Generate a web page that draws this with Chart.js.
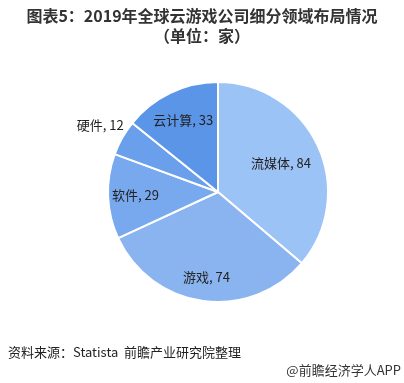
<!DOCTYPE html>
<html><head><meta charset="utf-8">
<script src="https://cdn.jsdelivr.net/npm/chart.js@4/dist/chart.umd.min.js"></script>
<style>
html,body{margin:0;padding:0;background:#fff;}
#wrap{position:relative;width:404px;height:383px;overflow:hidden;font-family:"Noto Sans CJK SC","Noto Sans",sans-serif;}
#c{position:absolute;left:0;top:0;}
.t{position:absolute;left:0;width:404px;text-align:center;font-weight:bold;font-size:16px;color:#333;line-height:20px;}
#src{position:absolute;left:8px;top:343px;font-size:13px;color:#222;line-height:18px;}
#app{position:absolute;right:3px;top:361px;font-size:13px;color:#333;line-height:18px;}
</style></head>
<body><div id="wrap">
<canvas id="c" width="404" height="383"></canvas>
<div class="t" style="top:5px">图表5：2019年全球云游戏公司细分领域布局情况</div>
<div class="t" style="top:25px">（单位：家）</div>
<div id="src">资料来源：Statista&nbsp;&nbsp;前瞻产业研究院整理</div>
<div id="app">@前瞻经济学人APP</div>
</div>
<script>
const categories = ["流媒体","游戏","软件","硬件","云计算"];
const values = [84,74,29,12,33];
const colors = ["#9CC3F5","#8AB4F0","#78A8EE","#6A9FEC","#5B95E8"];
const labelRadius = [0.63,0.78,0.75,1.23,0.73];

const labelPlugin = {
  id:'lbl',
  afterDatasetsDraw(chart){
    const ctx = chart.ctx;
    const meta = chart.getDatasetMeta(0);
    ctx.save();
    ctx.font = '13px "Noto Sans CJK SC","Noto Sans",sans-serif';
    ctx.fillStyle = '#222';
    ctx.textAlign = 'center';
    ctx.textBaseline = 'middle';
    meta.data.forEach((arc,i)=>{
      const p = arc.getProps(['x','y','startAngle','endAngle','outerRadius'],true);
      const a = (p.startAngle+p.endAngle)/2;
      const r = p.outerRadius*labelRadius[i];
      ctx.fillText(categories[i]+', '+values[i], p.x+Math.cos(a)*r, p.y+Math.sin(a)*r);
    });
    ctx.restore();
  }
};

new Chart(document.getElementById('c'),{
  type:'pie',
  data:{labels:categories,datasets:[{data:values,backgroundColor:colors,borderColor:'#fff',borderWidth:2}]},
  options:{
    responsive:false,animation:false,
    layout:{padding:{left:107,right:75,top:81,bottom:80}},
    plugins:{legend:{display:false},tooltip:{enabled:false}}
  },
  plugins:[labelPlugin]
});
</script>
</body></html>
